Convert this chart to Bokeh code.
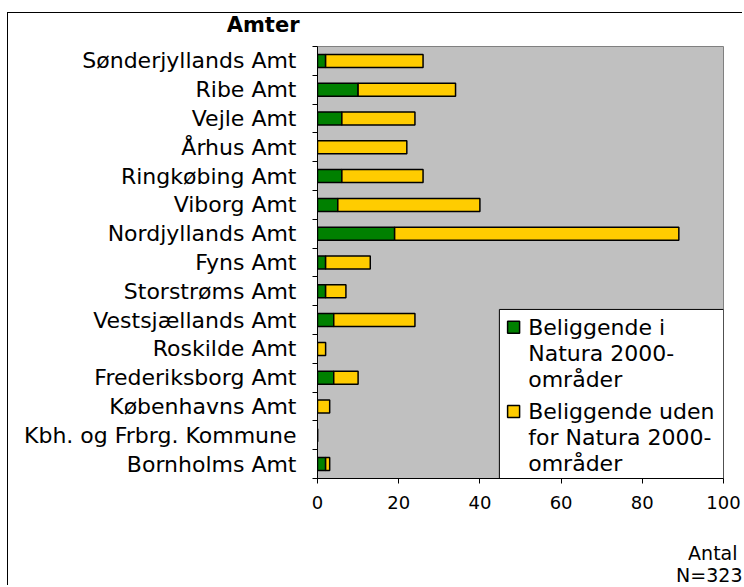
from bokeh.plotting import figure
from bokeh.models import Range1d, FixedTicker, Label
from bokeh.core.properties import value
from bokeh.embed import file_html
from bokeh.resources import INLINE

# ---- data ----
amter = ["Sønderjyllands Amt", "Ribe Amt", "Vejle Amt", "Århus Amt",
         "Ringkøbing Amt", "Viborg Amt", "Nordjyllands Amt", "Fyns Amt",
         "Storstrøms Amt", "Vestsjællands Amt", "Roskilde Amt",
         "Frederiksborg Amt", "Københavns Amt", "Kbh. og Frbrg. Kommune",
         "Bornholms Amt"]
i_natura = [2, 10, 6, 0, 6, 5, 19, 2, 2, 4, 0, 4, 0, 0, 2]
uden_natura = [24, 24, 18, 22, 20, 35, 70, 11, 5, 20, 2, 6, 3, 0, 1]
x_ticks = [0, 20, 40, 60, 80, 100]
series_labels = ["Beliggende i\nNatura 2000-\nområder",
                 "Beliggende uden\nfor Natura 2000-\nområder"]
axis_title = "Amter"
value_title = "Antal"
total_note = "N=323"

GREEN = "#008000"
YELLOW = "#FFCC00"
FONT = "DejaVu Sans"

n = len(amter)
ypos = [n - 0.5 - i for i in range(n)]
ends = [a + b for a, b in zip(i_natura, uden_natura)]

p = figure(width=735, height=573, output_backend="svg", toolbar_location=None,
           x_range=Range1d(0, 100), y_range=Range1d(0, n),
           min_border_left=309, min_border_right=20,
           min_border_top=33, min_border_bottom=108)
p.styles = {"border-left": "1px solid black", "border-top": "1px solid black",
            "margin-left": "7px", "margin-top": "12px"}
p.background_fill_color = "#C0C0C0"
p.border_fill_color = "white"
p.outline_line_color = "#808080"
p.outline_line_width = 1
p.xgrid.visible = False
p.ygrid.visible = False

p.hbar(y=ypos, left=0, right=i_natura, height=0.45,
       fill_color=GREEN, line_color="black", line_width=1.5)
p.hbar(y=ypos, left=i_natura, right=ends, height=0.45,
       fill_color=YELLOW, line_color="black", line_width=1.5)

# x axis
xa = p.xaxis[0]
xa.ticker = FixedTicker(ticks=x_ticks, minor_ticks=[])
xa.major_label_text_font = FONT
xa.major_label_text_font_size = "18px"
xa.major_label_text_color = "black"
xa.major_tick_out = 5
xa.major_tick_in = 0
xa.minor_tick_line_color = None
xa.axis_line_color = "black"
xa.major_label_standoff = 12

# y axis: labels at centres, tick marks at boundaries
ya = p.yaxis[0]
ya.ticker = FixedTicker(ticks=ypos, minor_ticks=list(range(n + 1)))
ya.major_label_overrides = {y: name for y, name in zip(ypos, amter)}
ya.major_label_text_font = FONT
ya.major_label_text_font_size = "22px"
ya.major_label_text_color = "black"
ya.major_tick_line_color = None
ya.major_tick_out = 0
ya.major_tick_in = 0
ya.minor_tick_out = 5
ya.minor_tick_in = 0
ya.minor_tick_line_color = "black"
ya.axis_line_color = "black"
ya.major_label_standoff = 16

# "Amter" heading in the top panel
p.add_layout(Label(x=-18, y=22, x_units="screen", y_units="screen",
                   text=axis_title, text_font=FONT, text_font_size="21px",
                   text_font_style="bold", text_align="right",
                   text_baseline="middle", text_color="black"), "above")
# "Antal" / "N=323" in the bottom panel
p.add_layout(Label(x=420, y=-19, x_units="screen", y_units="screen",
                   text=value_title, text_font=FONT, text_font_size="19px",
                   text_align="right", text_baseline="middle",
                   text_color="black"), "below")
p.add_layout(Label(x=425, y=-19, x_units="screen", y_units="screen",
                   text=total_note, text_font=FONT, text_font_size="19px",
                   text_align="right", text_baseline="middle",
                   text_color="black"), "below")

# legend (drawn inside the frame)
p.quad(left=[44.8], right=[100], bottom=[0], top=[5.87],
       fill_color="white", line_color="black", line_width=1)
leg_y = [5.25, 2.33]
colors = [GREEN, YELLOW]
p.scatter(x=[48.3, 48.3], y=leg_y, marker="square", size=12,
          fill_color=colors, line_color="black", line_width=1.5)
tx, ty, tt = [], [], []
for lab, y0 in zip(series_labels, leg_y):
    for k, line in enumerate(lab.split("\n")):
        tx.append(51.9)
        ty.append(y0 - k * 0.903)
        tt.append(line)
p.text(x=tx, y=ty, text=tt, text_font=value(FONT), text_font_size="22px",
       text_align="left", text_baseline="middle", text_color="black")

open("out.html", "w").write(file_html(p, INLINE))
